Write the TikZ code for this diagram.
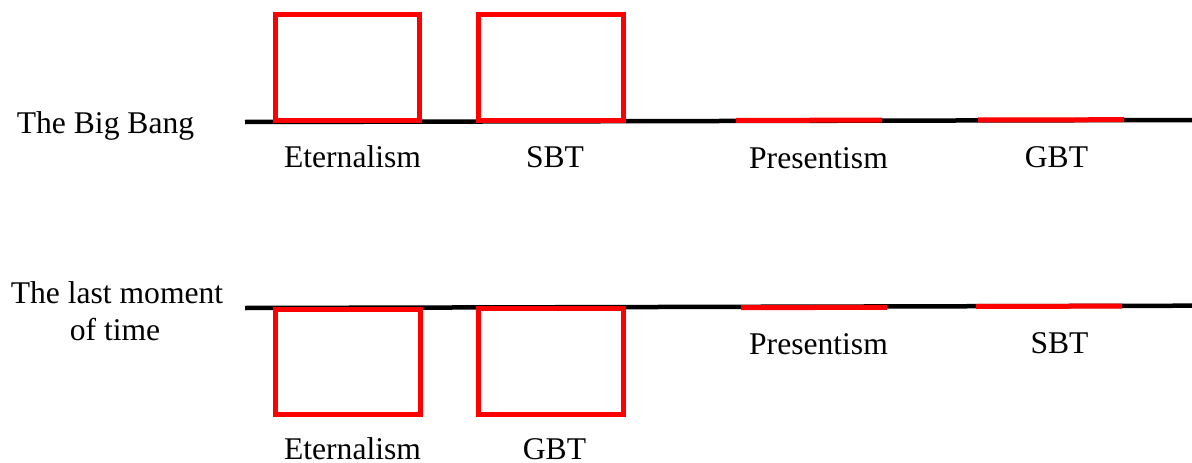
\documentclass[tikz,border=0pt]{standalone}
\usepackage{fontspec}
\setmainfont{LiberationSerif}[Extension=.ttf,UprightFont=*-Regular,BoldFont=*-Bold]
\begin{document}
\begin{tikzpicture}[x=1pt,y=-1pt,
  timeline/.style={line width=4.5pt,black},
  segment/.style={line width=5pt,red},
  viewbox/.style={draw=red,line width=5pt,fill=none,inner sep=0pt},
  lbl/.style={inner sep=0pt,anchor=base,font=\rmfamily\fontsize{31.6}{37}\selectfont}]
\useasboundingbox (0,0) rectangle (1192,463);

% upper time line: the big bang
\coordinate (ta) at (245,122);
\coordinate (tb) at (1192,120);
\draw[timeline] (ta) -- (tb);
\node[viewbox,minimum width=144pt,minimum height=106pt] (tEb) at (347.5,67.5) {};
\node[viewbox,minimum width=145pt,minimum height=106pt] (tSb) at (551,67.5) {};
\coordinate (tP1) at (736,120.4);
\coordinate (tP2) at (882,120.1);
\coordinate (tG1) at (978,119.9);
\coordinate (tG2) at (1124,119.7);
\draw[segment] (tP1) -- (tP2);
\draw[segment] (tG1) -- (tG2);
\node[lbl] (tE) at (352.5,167) {Eternalism};
\node[lbl] (tS) at (555,167) {SBT};
\node[lbl] (tP) at (818.5,168) {Presentism};
\node[lbl] (tG) at (1056.5,167) {GBT};
\node[lbl] (bang) at (105.5,133) {The Big Bang};

% lower time line: the last moment of time
\coordinate (ba) at (245,308);
\coordinate (bb) at (1192,305.7);
\draw[timeline] (ba) -- (bb);
\node[viewbox,minimum width=145pt,minimum height=105pt] (bEb) at (348,362) {};
\node[viewbox,minimum width=145pt,minimum height=106pt] (bGb) at (551,361.5) {};
\coordinate (bP1) at (741,307.7);
\coordinate (bP2) at (887,307.3);
\coordinate (bS1) at (976,306.5);
\coordinate (bS2) at (1122,306.1);
\draw[segment] (bP1) -- (bP2);
\draw[segment] (bS1) -- (bS2);
\node[lbl] (bE) at (352.5,459) {Eternalism};
\node[lbl] (bG) at (554.5,459) {GBT};
\node[lbl] (bP) at (818.5,354) {Presentism};
\node[lbl] (bS) at (1059.5,353) {SBT};
\node[lbl] (last1) at (117,303) {The last moment};
\node[lbl] (last2) at (115,340) {of time};
\end{tikzpicture}
\end{document}
